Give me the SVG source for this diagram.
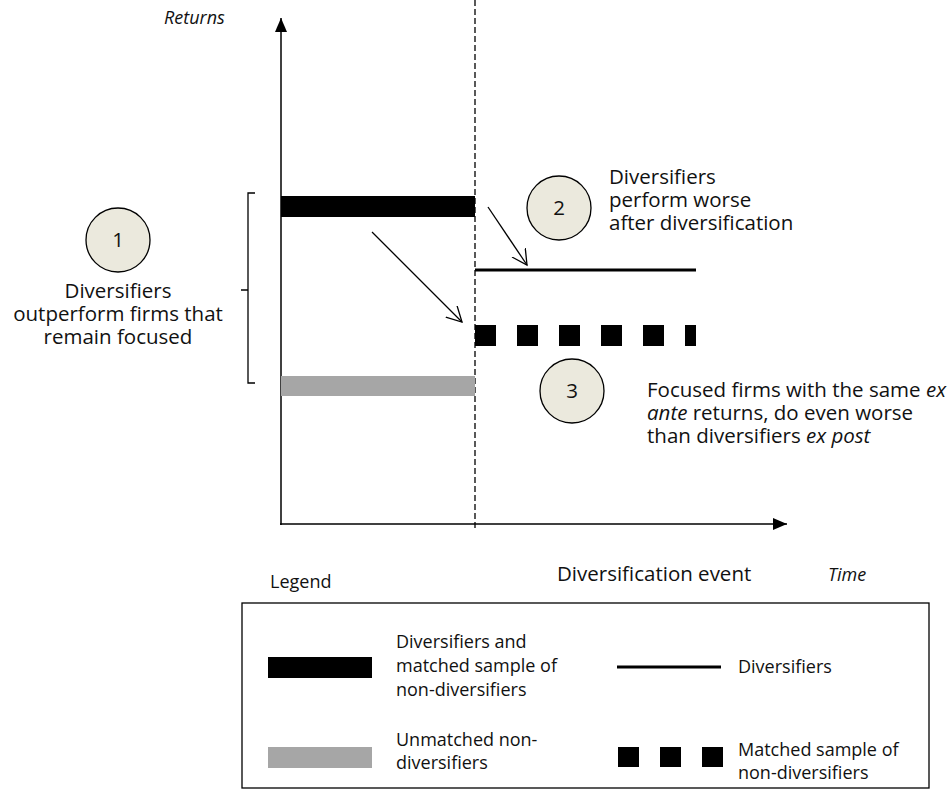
<svg xmlns="http://www.w3.org/2000/svg" width="951" height="796" viewBox="0 0 951 796">
<style>
.t{font-family:"Open Sans","Liberation Sans",sans-serif;font-size:18px;fill:#111}
.n{font-size:20.5px}
.i{font-style:italic}
.c{text-anchor:middle}
.ax{stroke:#000;stroke-width:1.5;fill:none}
.ln{stroke:#000;stroke-width:1.3;fill:none}
.circ{fill:#ebe9dd;stroke:#000;stroke-width:1.3}
</style>
<defs>
<marker id="tri" markerWidth="16" markerHeight="14" refX="14" refY="6" orient="auto" markerUnits="userSpaceOnUse">
<path d="M0,0 L14,6 L0,12 Z" fill="#000"/>
</marker>
<marker id="open" markerWidth="18" markerHeight="18" refX="15" refY="8" orient="auto" markerUnits="userSpaceOnUse">
<path d="M0,0 L15,8 L0,16" fill="none" stroke="#000" stroke-width="1.3"/>
</marker>
</defs>
<rect width="951" height="796" fill="#fff"/>
<g id="axes">
<line class="ax" x1="281" y1="525" x2="281" y2="18" marker-end="url(#tri)"/>
<line class="ax" x1="280" y1="524" x2="787" y2="524" marker-end="url(#tri)"/>
<line x1="475" y1="0" x2="475" y2="528" stroke="#000" stroke-width="1.3" stroke-dasharray="6,3"/>
<text class="t i" x="164" y="24" font-size="16">Returns</text>
<text class="t n" x="557" y="581">Diversification event</text>
<text class="t i" x="828" y="581" font-size="16">Time</text>
</g>
<g id="bars">
<rect x="281" y="196" width="194" height="21" fill="#000"/>
<rect x="281" y="376" width="194" height="20" fill="#a6a6a6"/>
<line x1="475" y1="270" x2="696" y2="270" stroke="#000" stroke-width="3"/>
<line x1="475" y1="335.5" x2="696" y2="335.5" stroke="#000" stroke-width="21" stroke-dasharray="21,21"/>
</g>
<g id="bracket">
<path class="ln" d="M255,193 H248 V383 H255 M248,290 H241"/>
</g>
<g id="node1">
<circle class="circ" cx="118" cy="240" r="32"/>
<text class="t n c" x="118" y="247">1</text>
<text class="t n c" x="118" y="298">Diversifiers</text>
<text class="t n c" x="118" y="321">outperform firms that</text>
<text class="t n c" x="118" y="344">remain focused</text>
</g>
<g id="node2">
<circle class="circ" cx="559" cy="208" r="32"/>
<text class="t n c" x="559" y="215">2</text>
<text class="t n" x="609" y="184">Diversifiers</text>
<text class="t n" x="609" y="207">perform worse</text>
<text class="t n" x="609" y="230">after diversification</text>
</g>
<g id="node3">
<circle class="circ" cx="572" cy="391" r="32"/>
<text class="t n c" x="572" y="398">3</text>
<text class="t n" x="647" y="397">Focused firms with the same <tspan class="i">ex</tspan></text>
<text class="t n" x="647" y="420"><tspan class="i">ante</tspan> returns, do even worse</text>
<text class="t n" x="647" y="443">than diversifiers <tspan class="i">ex post</tspan></text>
</g>
<g id="connectors">
<line class="ln" x1="372" y1="232" x2="462" y2="322" marker-end="url(#open)"/>
<line class="ln" x1="488" y1="207" x2="527" y2="265" marker-end="url(#open)"/>
</g>
<g id="legend">
<text class="t" x="270" y="588">Legend</text>
<rect x="242" y="603" width="687" height="185" fill="none" stroke="#000" stroke-width="1.3"/>
<rect x="268" y="657" width="104" height="21" fill="#000"/>
<rect x="268" y="747" width="104" height="21" fill="#a6a6a6"/>
<line x1="617" y1="667" x2="721" y2="667" stroke="#000" stroke-width="3"/>
<line x1="618" y1="757" x2="723" y2="757" stroke="#000" stroke-width="20" stroke-dasharray="21,21"/>
<text class="t" x="396" y="648">Diversifiers and</text>
<text class="t" x="396" y="672">matched sample of</text>
<text class="t" x="396" y="696">non-diversifiers</text>
<text class="t" x="396" y="746">Unmatched non-</text>
<text class="t" x="396" y="769">diversifiers</text>
<text class="t" x="738" y="673">Diversifiers</text>
<text class="t" x="738" y="756">Matched sample of</text>
<text class="t" x="738" y="779">non-diversifiers</text>
</g>
</svg>
